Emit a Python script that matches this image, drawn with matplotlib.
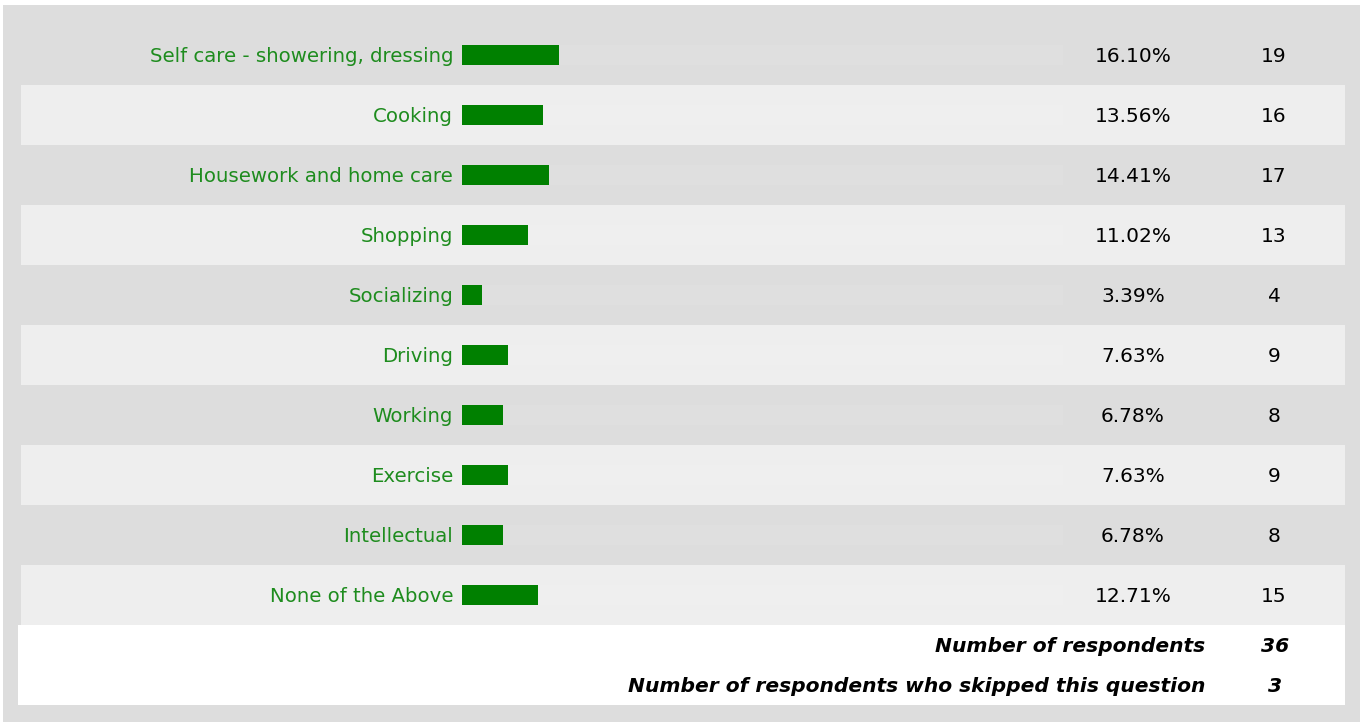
import matplotlib
matplotlib.use("Agg")
import matplotlib.pyplot as plt
from matplotlib.patches import Rectangle

categories = ["Self care - showering, dressing", "Cooking", "Housework and home care",
              "Shopping", "Socializing", "Driving", "Working", "Exercise",
              "Intellectual", "None of the Above"]
percents = [16.10, 13.56, 14.41, 11.02, 3.39, 7.63, 6.78, 7.63, 6.78, 12.71]
counts = [19, 16, 17, 13, 4, 9, 8, 9, 8, 15]
summary_labels = ["Number of respondents", "Number of respondents who skipped this question"]
summary_values = [36, 3]

W, H = 1363, 725
fig = plt.figure(figsize=(W / 100, H / 100), dpi=100)
fig.patch.set_facecolor("white")

# background axes in pixel coordinates
bg = fig.add_axes([0, 0, 1, 1])
bg.set_xlim(0, W)
bg.set_ylim(H, 0)
bg.axis("off")

DARK = "#dddddd"
LIGHT = "#eeeeee"
GREEN_TXT = "#1e8c1e"
FONT = "DejaVu Sans"

bg.add_patch(Rectangle((3, 5), 1357, 717, color=DARK, lw=0))
row_top, row_h = 25, 60
n = len(categories)
for i in range(n):
    if i % 2 == 1:
        bg.add_patch(Rectangle((21, row_top + i * row_h), 1324, row_h, color=LIGHT, lw=0))
white_top = row_top + n * row_h
bg.add_patch(Rectangle((18, white_top), 1327, 705 - white_top, color="white", lw=0))

for i in range(n):
    yc = row_top + i * row_h + row_h / 2 + 1
    bg.text(453, yc, categories[i], ha="right", va="center", color=GREEN_TXT,
            fontsize=14.2, family=FONT)
    bg.text(1133, yc, f"{percents[i]:.2f}%", ha="center", va="center", color="black",
            fontsize=14.5, family=FONT)
    bg.text(1274, yc, str(counts[i]), ha="center", va="center", color="black",
            fontsize=14.5, family=FONT)

for j, (lab, val) in enumerate(zip(summary_labels, summary_values)):
    yc = white_top + 21 + j * 40
    bg.text(1205, yc, lab, ha="right", va="center", color="black", fontsize=14.6,
            family=FONT, weight="bold", style="italic")
    bg.text(1275, yc, str(val), ha="center", va="center", color="black", fontsize=14.6,
            family=FONT, weight="bold", style="italic")

# bar axes: x in percent, 0..100
x0, x1 = 462, 1063
ax = fig.add_axes([x0 / W, 1 - white_top / H, (x1 - x0) / W, (n * row_h) / H])
ax.set_xlim(0, 100)
ax.set_ylim(n - 0.5, -0.5)
ax.axis("off")
ypos = list(range(n))
ax.barh(ypos, [100] * n, height=20 / 60, color="white", alpha=0.08, lw=0)
ax.barh(ypos, percents, height=20 / 60, color="#008000", lw=0)

fig.savefig("out.png", dpi=100, facecolor="white")
